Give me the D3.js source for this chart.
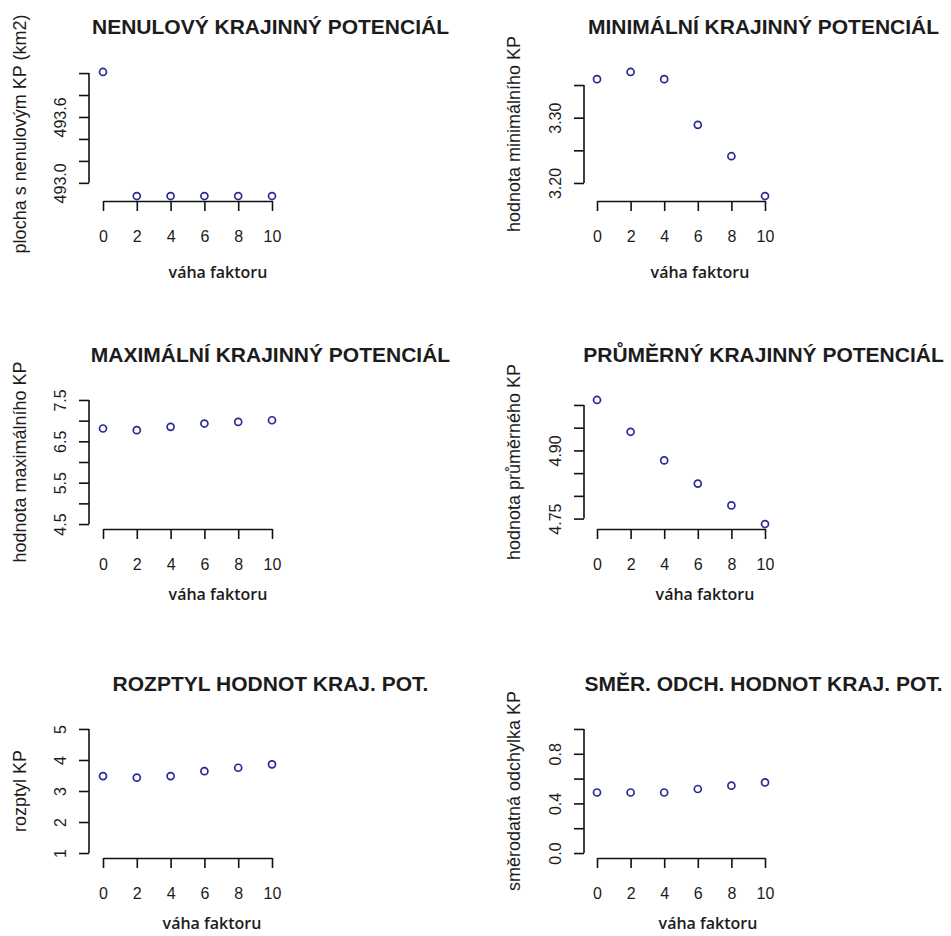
<!DOCTYPE html>
<html>
<head>
<meta charset="utf-8">
<script src="https://cdn.jsdelivr.net/npm/d3@7"></script>
<style>
  body { margin: 0; background: #fff; }
  svg text { font-family: "Liberation Sans", Arial, sans-serif; fill: #1c1c1c; }
</style>
</head>
<body>
<div id="chart"></div>
<script>
// Data
const xValues = [0, 2, 4, 6, 8, 10]
const xTicks = [0, 2, 4, 6, 8, 10]
const xLabel = 'váha faktoru'

const titles = [
  'NENULOVÝ KRAJINNÝ POTENCIÁL',
  'MINIMÁLNÍ KRAJINNÝ POTENCIÁL',
  'MAXIMÁLNÍ KRAJINNÝ POTENCIÁL',
  'PRŮMĚRNÝ KRAJINNÝ POTENCIÁL',
  'ROZPTYL HODNOT KRAJ. POT.',
  'SMĚR. ODCH. HODNOT KRAJ. POT.'
]
const yLabels = [
  'plocha s nenulovým KP (km2)',
  'hodnota minimálního KP',
  'hodnota maximálního KP',
  'hodnota průměrného KP',
  'rozptyl KP',
  'směrodatná odchylka KP'
]

const nenulovy = [494.01, 492.88, 492.88, 492.88, 492.88, 492.88]
const minimalni = [3.359, 3.370, 3.359, 3.289, 3.241, 3.180]
const maximalni = [6.81, 6.77, 6.85, 6.93, 6.97, 7.01]
const prumerny = [5.011, 4.941, 4.878, 4.827, 4.779, 4.738]
const rozptyl = [3.48, 3.43, 3.48, 3.64, 3.75, 3.86]
const smerOdch = [0.488, 0.488, 0.488, 0.516, 0.543, 0.569]

// y ticks, the labelled subset and the y limits of every panel
const yTicks = [
  [493.0, 493.2, 493.4, 493.6, 493.8, 494.0],
  [3.20, 3.25, 3.30, 3.35],
  [4.5, 5.0, 5.5, 6.0, 6.5, 7.0, 7.5],
  [4.75, 4.80, 4.85, 4.90, 4.95, 5.00],
  [1, 2, 3, 4, 5],
  [0.0, 0.2, 0.4, 0.6, 0.8, 1.0]
]
const yTickLabels = [
  [493.0, 493.6],
  [3.20, 3.30],
  [4.5, 5.5, 6.5, 7.5],
  [4.75, 4.90],
  [1, 2, 3, 4, 5],
  [0.0, 0.4, 0.8]
]
const yFormats = ['.1f', '.2f', '.1f', '.2f', 'd', '.1f']
const yLimits = [null, null, [4.5, 7.5], null, [1, 5], [0, 1]]

const series = [nenulovy, minimalni, maximalni, prumerny, rozptyl, smerOdch]

// Layout of the 3 x 2 grid
const W = 951
const H = 936
const PLOT_H = 134
const colX0 = [103, 597]       // pixel of x = 0
const colXW = [169, 168]       // pixels from x = 0 to x = 10
const colYAxis = [89, 584]     // y axis line
const colYLab = [26, 520]      // baseline of rotated y label
const colTitle = [270.5, 763.5]
const rowBottom = [201, 529, 858]
const rowXLab = [278, 600, 929]
const xLabCenter = [218, 700, 218, 705, 212, 708]

const svg = d3.select('#chart')
  .append('svg')
  .attr('width', W)
  .attr('height', H)

svg.append('rect').attr('width', W).attr('height', H).attr('fill', '#fff')

series.forEach((values, i) => {
  const col = i % 2
  const row = Math.floor(i / 2)
  const bottom = rowBottom[row]
  const top = bottom - PLOT_H

  // R style limits: data (or given) range extended by 4 %
  const lim = yLimits[i] || d3.extent(values)
  const pad = (lim[1] - lim[0]) * 0.04

  const x = d3.scaleLinear()
    .domain([0, 10])
    .range([colX0[col], colX0[col] + colXW[col]])
  const y = d3.scaleLinear()
    .domain([lim[0] - pad, lim[1] + pad])
    .range([bottom, top])

  const g = svg.append('g')

  // Title
  g.append('text')
    .attr('x', colTitle[col])
    .attr('y', top - 33)
    .attr('text-anchor', 'middle')
    .style('font-size', '21px')
    .style('font-weight', 'bold')
    .text(titles[i])

  // x axis
  const xAxis = g.append('g')
    .attr('transform', `translate(0, ${bottom})`)
    .call(d3.axisBottom(x).tickValues(xTicks).tickSize(10).tickSizeOuter(0))
  xAxis.select('.domain').attr('stroke', '#111').attr('stroke-width', 1.6)
  xAxis.selectAll('.tick line').attr('stroke', '#111').attr('stroke-width', 1.6)
  xAxis.selectAll('.tick text')
    .attr('y', 41)
    .attr('dy', 0)
    .style('font-size', '16px')
    .style('font-family', '"Liberation Sans", Arial, sans-serif')
    .attr('fill', '#1c1c1c')

  // y axis, line only from first to last tick
  const fmt = d3.format(yFormats[i])
  const labelled = yTickLabels[i]
  const yAxis = g.append('g')
    .attr('transform', `translate(${colYAxis[col]}, 0)`)
    .call(d3.axisLeft(y)
      .tickValues(yTicks[i])
      .tickSize(10)
      .tickFormat(d => labelled.includes(d) ? fmt(d) : ''))
  yAxis.select('.domain').remove()
  yAxis.append('line')
    .attr('x1', 0)
    .attr('x2', 0)
    .attr('y1', y(yTicks[i][0]))
    .attr('y2', y(yTicks[i][yTicks[i].length - 1]))
    .attr('stroke', '#111')
    .attr('stroke-width', 1.6)
  yAxis.selectAll('.tick line').attr('stroke', '#111').attr('stroke-width', 1.6)
  yAxis.selectAll('.tick text')
    .attr('transform', 'rotate(-90)')
    .attr('x', 0)
    .attr('y', -23)
    .attr('dy', 0)
    .attr('text-anchor', 'middle')
    .style('font-size', '16px')
    .style('font-family', '"Liberation Sans", Arial, sans-serif')
    .attr('fill', '#1c1c1c')

  // y label
  g.append('text')
    .attr('transform', `translate(${colYLab[col]}, ${(top + bottom) / 2}) rotate(-90)`)
    .attr('text-anchor', 'middle')
    .style('font-size', '18px')
    .text(yLabels[i])

  // x label
  g.append('text')
    .attr('x', xLabCenter[i])
    .attr('y', rowXLab[row])
    .attr('text-anchor', 'middle')
    .style('font-family', '"Open Sans", sans-serif')
    .style('font-weight', 600)
    .style('font-size', '16px')
    .text(xLabel)

  // Points
  g.selectAll('circle')
    .data(values)
    .enter()
    .append('circle')
    .attr('cx', (d, j) => x(xValues[j]))
    .attr('cy', d => y(d))
    .attr('r', 3.5)
    .attr('fill', 'none')
    .attr('stroke', '#2a2a96')
    .attr('stroke-width', 1.7)
})
</script>
</body>
</html>
